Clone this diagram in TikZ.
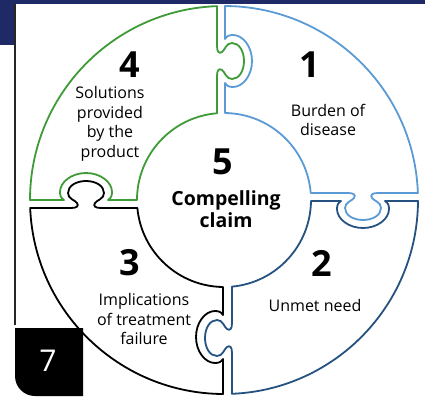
\documentclass[tikz,border=0pt]{standalone}
\usepackage{fontspec}
\setmainfont{Open Sans}
\definecolor{pgreen}{HTML}{3E9B37}
\definecolor{plblue}{HTML}{5B9BD5}
\definecolor{pdblue}{HTML}{255280}
\definecolor{navy}{HTML}{1F2966}
\newcommand{\knobpath}{-- (-15,0) .. controls (-9,0) and (-7,2) .. (-9,5) .. controls (-11,8) and (-18,9) .. (-18,15) .. controls (-18,22) and (-10,27) .. (0,27) .. controls (10,27) and (18,22) .. (18,15) .. controls (18,9) and (11,8) .. (9,5) .. controls (7,2) and (9,0) .. (15,0)}
\newcommand{\sockpath}{-- (-22,0) .. controls (-25,2) and (-26,4) .. (-26,8) .. controls (-26,18) and (-14.4,27) .. (0,27) .. controls (14.4,27) and (26,18) .. (26,8) .. controls (26,4) and (25,2) .. (22,0)}
\begin{document}
\begin{tikzpicture}[x=1pt,y=1pt,
  piece/.style={line width=1.8pt, line join=round},
  num/.style={font=\bfseries\fontsize{36}{36}\selectfont, inner sep=0pt},
  lbl/.style={font=\fontsize{16}{19.5}\selectfont, align=center, inner sep=0pt}]
\useasboundingbox (0,0) rectangle (425,-396);
\fill[white] (0,0) rectangle (425,-396);
% frame
\fill[navy] (0,0) rectangle (425,-4.5);
\fill[navy] (0,0) rectangle (14,-45);
\draw[line width=1.2pt, black!85] (15,-4.5) -- (15,-325);
% green piece (4)
\draw[piece, pgreen] (30,-200) arc[start angle=180, end angle=92.07, radius=194]
  {[cm={0,-1,1,0,(217,-61)}] \knobpath} -- (217,-113.28)
  arc[start angle=94.62, end angle=180, radius=87]
  {[cm={-1,0,0,1,(86,-200)}] \sockpath} -- cycle;
% light blue piece (1)
\draw[piece, plblue] (225.02,-6.0) arc[start angle=89.70, end angle=2.07, radius=194]
  {[cm={-1,0,0,-1,(363,-193)}] \knobpath} -- (310.72,-193)
  arc[start angle=4.62, end angle=89.34, radius=87]
  {[cm={0,1,1,0,(225,-61)}] \sockpath} -- cycle;
% dark blue piece (2)
\draw[piece, pdblue] (418.0,-201) arc[start angle=-0.30, end angle=-87.64, radius=194]
  {[cm={0,1,-1,0,(232,-338)}] \knobpath} -- (232,-286.63)
  arc[start angle=-84.72, end angle=-0.66, radius=87]
  {[cm={1,0,0,-1,(363,-201)}] \sockpath} -- cycle;
% black piece (3)
\draw[piece, black] (222.98,-394.0) arc[start angle=269.70, end angle=182.36, radius=194]
  {[cm={1,0,0,1,(86,-208)}] \knobpath} -- (137.37,-208)
  arc[start angle=185.28, end angle=269.34, radius=87]
  {[cm={0,-1,-1,0,(223,-337)}] \sockpath} -- cycle;
% texts
\node[num] (n4) at (130,-65) {4};
\node[lbl] (t4) at (110,-124) {Solutions\\provided\\by the\\product};
\node[num] (n1) at (310,-65) {1};
\node[lbl] (t1) at (328,-120) {Burden of\\disease};
\node[num] (n5) at (223,-162) {5};
\node[font=\bfseries\fontsize{19.5}{22}\selectfont, align=center, inner sep=0pt] (t5) at (226,-209) {Compelling\\claim};
\node[num] (n2) at (322,-263) {2};
\node[lbl] (t2) at (315,-305) {Unmet need};
\node[num] (n3) at (130,-263) {3};
\node[lbl] (t3) at (144,-319) {Implications\\of treatment\\failure};
% badge
\fill[black] (15,-328) -- (83,-328) -- (83,-396) -- (35,-396) arc[start angle=270, end angle=180, radius=20] -- cycle;
\node[text=white, font=\fontsize{30}{30}\selectfont, inner sep=0pt] (b7) at (48,-361) {7};
\end{tikzpicture}
\end{document}
